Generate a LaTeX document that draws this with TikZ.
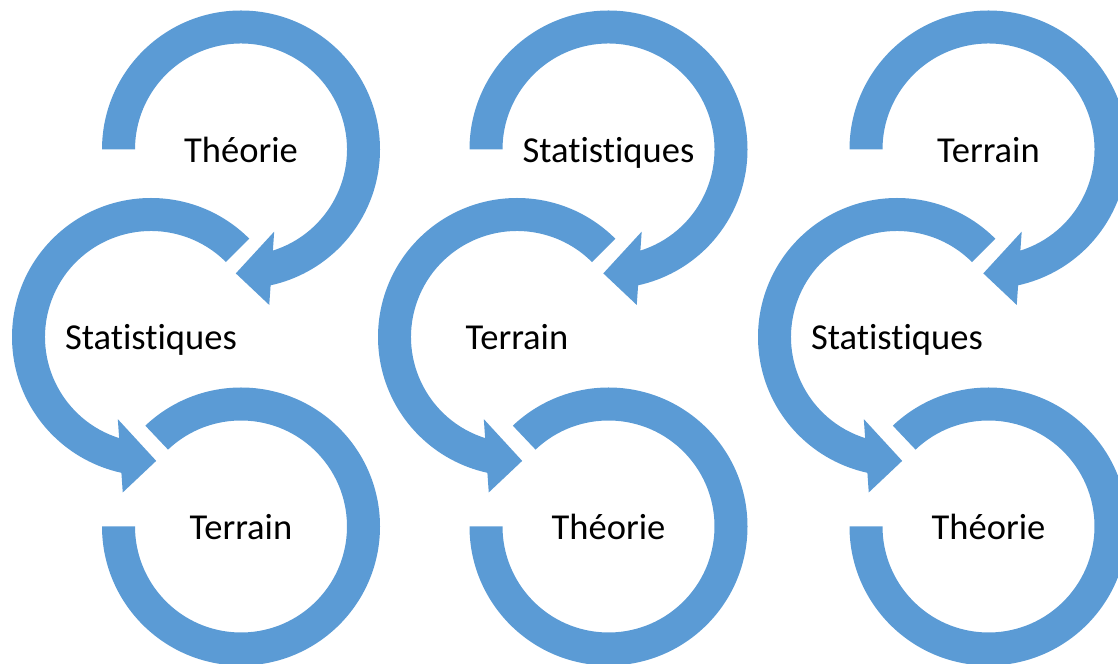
\documentclass[tikz,border=0pt]{standalone}
\usepackage{fontspec}
\setmainfont{Carlito}[RawFeature={-liga;-dlig;-clig}]
\definecolor{ringblue}{HTML}{5B9BD5}
\tikzset{
  ringfill/.style={fill=ringblue, draw=none},
  lbl/.style={font=\fontsize{27.4}{31}\selectfont, text=black, anchor=base, inner sep=0pt},
  cwarrow/.pic={
    \fill[ringfill] (180:139) arc[start angle=180,end angle=-77.7,radius=139]
      -- (-79.7:158) -- (-92.4:124) -- (-68:88.6) -- (-72.5:106)
      arc[start angle=-72.5,end angle=180,radius=106] -- cycle;
  },
  ccwarrow/.pic={
    \fill[ringfill] (45:139) arc[start angle=45,end angle=257.7,radius=139]
      -- (259.7:158) -- (272.4:124) -- (248:88.6) -- (252.5:106)
      arc[start angle=252.5,end angle=45,radius=106] -- cycle;
  },
  openring/.pic={
    \fill[ringfill] (180:139) arc[start angle=180,end angle=493.5,radius=139]
      -- (493.5:106) arc[start angle=493.5,end angle=180,radius=106] -- cycle;
  }
}
\begin{document}
\begin{tikzpicture}[x=0.75pt,y=0.75pt]
\useasboundingbox (0,0) rectangle (1118,664);
% centres
\coordinate (a1) at (241,514.5);
\coordinate (a2) at (151,327);
\coordinate (a3) at (241,137.5);
\coordinate (b1) at (608.5,514.5);
\coordinate (b2) at (517,327);
\coordinate (b3) at (608.5,137.5);
\coordinate (c1) at (988.5,514.5);
\coordinate (c2) at (897,327);
\coordinate (c3) at (988.5,137.5);
% rings
\pic at (a1) {cwarrow};
\pic at (a2) {ccwarrow};
\pic at (a3) {openring};
\pic at (b1) {cwarrow};
\pic at (b2) {ccwarrow};
\pic at (b3) {openring};
\pic at (c1) {cwarrow};
\pic at (c2) {ccwarrow};
\pic at (c3) {openring};
% labels
\node[lbl] (ta1) at ([yshift=-12.8*0.75pt]a1) {Théorie};
\node[lbl] (ta2) at ([yshift=-12.8*0.75pt]a2) {Statistiques};
\node[lbl] (ta3) at ([yshift=-12.8*0.75pt]a3) {Terrain};
\node[lbl] (tb1) at ([yshift=-12.8*0.75pt]b1) {Statistiques};
\node[lbl] (tb2) at ([yshift=-12.8*0.75pt]b2) {Terrain};
\node[lbl] (tb3) at ([yshift=-12.8*0.75pt]b3) {Théorie};
\node[lbl] (tc1) at ([yshift=-12.8*0.75pt]c1) {Terrain};
\node[lbl] (tc2) at ([yshift=-12.8*0.75pt]c2) {Statistiques};
\node[lbl] (tc3) at ([yshift=-12.8*0.75pt]c3) {Théorie};
\end{tikzpicture}
\end{document}
